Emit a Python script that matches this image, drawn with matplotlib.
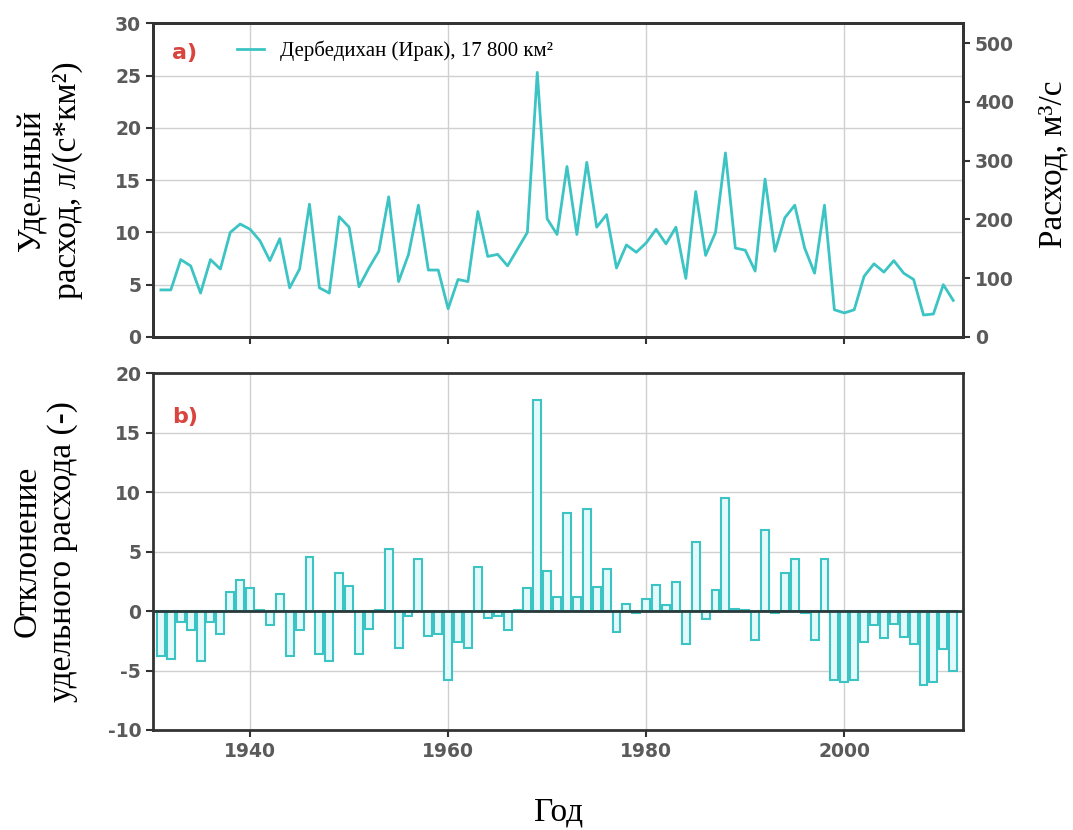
import numpy as np
import matplotlib.pyplot as plt

plt.rcParams['axes.unicode_minus'] = False

# годовые значения, 1931-2011
years = np.arange(1931, 2012)

# удельный расход, л/(с*км2)
q_spec = [4.5, 4.5, 7.4, 6.8, 4.2, 7.4, 6.5, 10.0, 10.8, 10.3,
          9.2, 7.3, 9.4, 4.7, 6.5, 12.7, 4.7, 4.2, 11.5, 10.5,
          4.8, 6.6, 8.2, 13.4, 5.3, 7.9, 12.6, 6.4, 6.4, 2.7,
          5.5, 5.3, 12.0, 7.7, 7.9, 6.8, 8.4, 10.0, 25.3, 11.3,
          9.8, 16.3, 9.8, 16.7, 10.5, 11.7, 6.6, 8.8, 8.1, 9.0,
          10.3, 8.9, 10.5, 5.6, 13.9, 7.8, 10.0, 17.6, 8.5, 8.3,
          6.3, 15.1, 8.2, 11.4, 12.6, 8.5, 6.1, 12.6, 2.6, 2.3,
          2.6, 5.8, 7.0, 6.2, 7.3, 6.1, 5.5, 2.1, 2.2, 5.0,
          3.5]

# отклонение удельного расхода
dev = [-3.8, -4.05, -0.9, -1.6, -4.2, -0.9, -1.9, 1.6, 2.6, 1.9,
       0.1, -1.2, 1.4, -3.8, -1.6, 4.5, -3.6, -4.2, 3.2, 2.1,
       -3.6, -1.5, 0.1, 5.2, -3.1, -0.4, 4.4, -2.1, -1.9, -5.8,
       -2.6, -3.1, 3.7, -0.6, -0.4, -1.6, 0.05, 1.9, 17.7, 3.4,
       1.2, 8.2, 1.2, 8.6, 2.0, 3.5, -1.8, 0.6, -0.15, 1.0,
       2.2, 0.5, 2.4, -2.8, 5.8, -0.65, 1.8, 9.5, 0.15, 0.1,
       -2.4, 6.8, -0.15, 3.2, 4.4, -0.15, -2.4, 4.4, -5.8, -6.0,
       -5.8, -2.6, -1.2, -2.3, -1.1, -2.2, -2.8, -6.2, -6.0, -3.2,
       -5.0]

area = 17800.0  # км2
k = area / 1000.0  # л/с на км2 -> м3/с

cyan = '#3cc4c4'
tick_col = '#5a5a5a'
serif = 'Liberation Serif'

fig = plt.figure(figsize=(10.73, 8.3), dpi=100)
ax1 = fig.add_axes([0.1426, 0.594, 0.755, 0.378])
ax2 = fig.add_axes([0.1426, 0.1205, 0.755, 0.430])

# --- a) ---
ax1.plot(years, q_spec, color=cyan, lw=2.0, label='Дербедихан (Ирак), 17 800 км²')
ax1.set_xlim(1930.2, 2012)
ax1.set_ylim(0, 30)
ax1.set_yticks(np.arange(0, 31, 5))
ax1.set_xticks([1940, 1960, 1980, 2000])
ax1.tick_params(axis='x', labelbottom=False)
ax1.grid(True, color='#d0d0d0', lw=1.0)
ax1.set_ylabel('Удельный\nрасход, л/(с*км²)', fontsize=24, family=serif, linespacing=1.2)
ax1.yaxis.set_label_coords(-0.086, 0.5)
ax1.text(0.024, 0.885, 'a)', transform=ax1.transAxes, color='#d9443f',
         fontsize=16, fontweight='bold')
leg = ax1.legend(loc='upper left', bbox_to_anchor=(0.08, 1.005), frameon=False,
                 prop={'family': serif, 'size': 15}, handlelength=1.3)

ax1r = ax1.twinx()
ax1r.set_ylim(0, 30 * k)
ax1r.set_yticks(np.arange(0, 501, 100))
ax1r.set_ylabel('Расход, м³/с', fontsize=24, family=serif)
ax1r.yaxis.set_label_coords(1.092, 0.55)

# --- b) ---
ax2.bar(years, dev, width=0.8, facecolor='#e4fafa', edgecolor=cyan, lw=1.5, zorder=2)
ax2.axhline(0, color='#2a3a3a', lw=2, zorder=3)
ax2.set_xlim(1930.2, 2012)
ax2.set_ylim(-10, 20)
ax2.set_yticks(np.arange(-10, 21, 5))
ax2.set_xticks([1940, 1960, 1980, 2000])
ax2.grid(True, color='#d0d0d0', lw=1.0, zorder=0)
ax2.set_axisbelow(True)
ax2.set_ylabel('Отклонение\nудельного расхода (-)', fontsize=24, family=serif, linespacing=1.2)
ax2.yaxis.set_label_coords(-0.092, 0.5)
ax2.set_xlabel('Год', fontsize=24, family=serif, labelpad=26)
ax2.text(0.024, 0.86, 'b)', transform=ax2.transAxes, color='#d9443f',
         fontsize=16, fontweight='bold')

for ax in (ax1, ax1r, ax2):
    for s in ax.spines.values():
        s.set_linewidth(2)
        s.set_color('#333333')
    ax.tick_params(labelsize=13.5, labelcolor=tick_col, width=1.5, length=5,
                   color='#333333')
    for lab in ax.get_xticklabels() + ax.get_yticklabels():
        lab.set_fontweight('bold')

fig.savefig('out.png', dpi=100)
